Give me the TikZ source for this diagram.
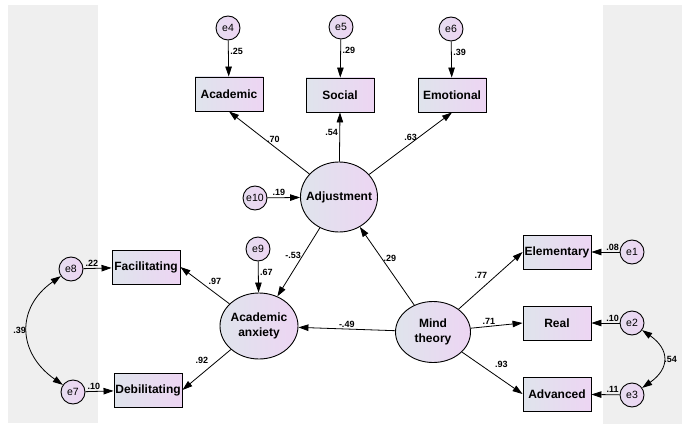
\documentclass[tikz,border=0pt]{standalone}
\usepackage{fontspec}
\setmainfont{Liberation Sans}
\usetikzlibrary{arrows.meta,shapes.geometric}
\definecolor{panelgray}{HTML}{EFEFEF}
\definecolor{fillleft}{HTML}{DFE4EC}
\definecolor{fillright}{HTML}{EDD5F3}
\newcommand{\latlabel}[1]{\clap{\begin{tabular}{@{}c@{}}#1\end{tabular}}}
\tikzset{
  obsbox/.style={draw,line width=0.9pt,minimum width=68pt,minimum height=34pt,inner sep=0pt,
    left color=fillleft,right color=fillright,font=\bfseries\fontsize{12}{14}\selectfont},
  latent/.style={draw,ellipse,line width=0.9pt,inner sep=0pt,
    left color=fillleft,right color=fillright,font=\bfseries\fontsize{12}{15}\selectfont},
  errc/.style={draw,circle,line width=0.9pt,minimum size=24pt,inner sep=0pt,
    left color=fillleft!50!fillright,right color=fillright,font=\fontsize{10.5}{12}\selectfont},
  coef/.style={font=\bfseries\fontsize{9}{10}\selectfont,inner sep=1.5pt},
}
\begin{document}
\begin{tikzpicture}[>={Triangle[length=10pt,width=6.5pt]},x=1pt,y=1pt,line width=0.8pt]
  \useasboundingbox (0,0) rectangle (682,-425);
  \fill[panelgray] (8,-5) rectangle (98,-423);
  \fill[panelgray] (603,-5) rectangle (682,-424);
  % adjustment part
  \node[obsbox] (acad) at (229,-94) {Academic};
  \node[obsbox] (soc) at (340,-95) {Social};
  \node[obsbox] (emo) at (452,-95) {Emotional};
  \node[errc] (e4) at (228,-28) {e4};
  \node[errc] (e5) at (341,-27) {e5};
  \node[errc] (e6) at (451,-29) {e6};
  \node[latent,minimum width=77pt,minimum height=70pt] (adj) at (339,-197) {\latlabel{Adjustment}};
  \node[errc] (e10) at (255,-198) {e10};
  % anxiety part
  \node[latent,minimum width=78pt,minimum height=66pt] (anx) at (259,-326) {\latlabel{Academic\\anxiety}};
  \node[errc] (e9) at (258,-249) {e9};
  \node[obsbox] (facil) at (146,-267) {Facilitating};
  \node[obsbox] (debil) at (148,-390) {Debilitating};
  \node[errc] (e8) at (71,-269) {e8};
  \node[errc] (e7) at (73,-392) {e7};
  % mind theory part
  \node[latent,minimum width=75pt,minimum height=61pt] (mind) at (433,-332) {\latlabel{Mind\\theory}};
  \node[obsbox] (elem) at (557,-252) {Elementary};
  \node[obsbox] (real) at (557,-323) {Real};
  \node[obsbox] (adv) at (557,-394) {Advanced};
  \node[errc] (e1) at (632,-252) {e1};
  \node[errc] (e2) at (632,-323) {e2};
  \node[errc] (e3) at (632,-395) {e3};
  % errors
  \draw[->] (e4) -- node[coef,pos=0.3,right]{.25} (acad);
  \draw[->] (e5) -- node[coef,pos=0.3,right]{.29} (soc);
  \draw[->] (e6) -- node[coef,pos=0.3,right]{.39} (emo);
  \draw[->] (e10) -- node[coef,pos=0.35,above]{.19} (adj);
  \draw[->] (e9) -- node[coef,pos=0.35,right]{.67} (anx);
  \draw[->] (e8) -- node[coef,pos=0.3,above]{.22} (facil);
  \draw[->] (e7) -- node[coef,pos=0.3,above]{.10} (debil);
  \draw[->] (e1) -- node[coef,pos=0.25,above]{.08} (elem);
  \draw[->] (e2) -- node[coef,pos=0.25,above]{.10} (real);
  \draw[->] (e3) -- node[coef,pos=0.25,above]{.11} (adv);
  \draw[<->] (e8) to[out=215,in=145,looseness=1.3] node[coef,midway,left]{.39} (e7);
  \draw[<->] (e2) to[out=-35,in=35,looseness=1.5] node[coef,midway,right,inner sep=1pt]{.54} (e3);
  % loadings and paths
  \draw[->] (adj) -- node[coef,pos=0.55,right]{.70} (acad.south);
  \draw[->] (adj) -- node[coef,pos=0.6,left]{.54} (soc.south);
  \draw[->] (adj) -- node[coef,pos=0.6,left]{.63} (emo.south);
  \draw[->] (adj) -- node[coef,pos=0.4,left]{-.53} (anx);
  \draw[->] (anx) -- node[coef,pos=0.3,above=6pt]{.97} (facil.east);
  \draw[->] (anx) -- node[coef,pos=0.6,above=8pt]{.92} (debil.east);
  \draw[->] (mind) -- node[coef,pos=0.6,right]{.29} (adj);
  \draw[->] (mind) -- node[coef,pos=0.5,above]{-.49} (anx);
  \draw[->] (mind) -- node[coef,pos=0.35,above=9pt]{.77} (elem.west);
  \draw[->] (mind) -- node[coef,pos=0.35,above]{.71} (real.west);
  \draw[->] (mind) -- node[coef,pos=0.65,above=10pt]{.93} (adv.west);
\end{tikzpicture}
\end{document}
